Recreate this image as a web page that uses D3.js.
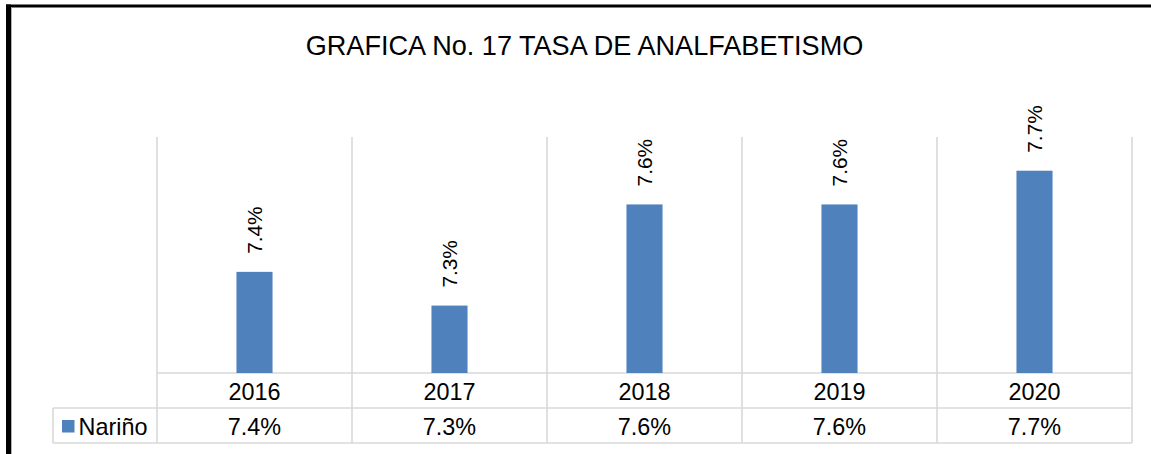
<!DOCTYPE html>
<html>
<head>
<meta charset="utf-8">
<script src="https://cdn.jsdelivr.net/npm/d3@7"></script>
<style>
  html, body { margin: 0; padding: 0; background: #fff; }
  svg { display: block; font-family: "Liberation Sans", Arial, sans-serif; }
</style>
</head>
<body>
<script>
const title = "GRAFICA No. 17 TASA DE ANALFABETISMO";
const years = ["2016", "2017", "2018", "2019", "2020"];
const seriesName = "Nariño";
const values = [7.4, 7.3, 7.6, 7.6, 7.7];
const valueLabels = ["7.4%", "7.3%", "7.6%", "7.6%", "7.7%"];
const yDomain = [7.1, 7.8];

const W = 1151, H = 454;
const svg = d3.select("body").append("svg").attr("width", W).attr("height", H);

const plotLeft = 157, plotRight = 1132, plotTop = 137, plotBottom = 373;
const row1Bottom = 408, row2Bottom = 443, legendLeft = 53;
const gridColor = "#d9d9d9";
const barColor = "#4f81bd";

const x = d3.scaleBand().domain(years).range([plotLeft, plotRight]).padding(0);
const y = d3.scaleLinear().domain(yDomain).range([plotBottom, plotTop]);
const barW = x.bandwidth() * 0.185;

// outer black frame (top & left)
svg.append("rect").attr("x", 6).attr("y", 4.5).attr("width", W - 6).attr("height", 3).attr("fill", "#000");
svg.append("rect").attr("x", 6).attr("y", 4.5).attr("width", 5).attr("height", H).attr("fill", "#000");
svg.append("line").attr("x1", 11.5).attr("x2", 11.5).attr("y1", 7.5).attr("y2", H)
  .attr("stroke", "#b0b0b0").attr("stroke-width", 1);

// title
svg.append("text").attr("x", 584.5).attr("y", 55).attr("text-anchor", "middle")
  .attr("font-size", 27.1).attr("fill", "#000").text(title);

// grid / table lines
const g = svg.append("g").attr("stroke", gridColor).attr("stroke-width", 1.6).attr("fill", "none");
const bounds = years.map(d => x(d)).concat([plotRight]);
bounds.forEach(b => {
  g.append("line").attr("x1", b).attr("x2", b).attr("y1", plotTop).attr("y2", row2Bottom);
});
g.append("line").attr("x1", plotLeft).attr("x2", plotRight).attr("y1", plotBottom).attr("y2", plotBottom);
g.append("line").attr("x1", legendLeft).attr("x2", plotRight).attr("y1", row1Bottom).attr("y2", row1Bottom);
g.append("line").attr("x1", legendLeft).attr("x2", plotRight).attr("y1", row2Bottom).attr("y2", row2Bottom);
g.append("line").attr("x1", legendLeft).attr("x2", legendLeft).attr("y1", row1Bottom).attr("y2", row2Bottom);

// bars
svg.append("g").selectAll("rect").data(values).join("rect")
  .attr("x", (d, i) => x(years[i]) + x.bandwidth() / 2 - barW / 2)
  .attr("y", d => y(d))
  .attr("width", barW)
  .attr("height", d => plotBottom - y(d))
  .attr("fill", barColor);

// rotated data labels
const lblSize = 20.8;
svg.append("g").selectAll("text").data(values).join("text")
  .attr("transform", (d, i) => {
    const cx = x(years[i]) + x.bandwidth() / 2 + lblSize * 0.36;
    const cy = y(d) - 18;
    return `translate(${cx},${cy}) rotate(-90)`;
  })
  .attr("text-anchor", "start")
  .attr("font-size", lblSize)
  .attr("fill", "#000")
  .text((d, i) => valueLabels[i]);

// table: category row
const tblSize = 23.4;
svg.append("g").selectAll("text").data(years).join("text")
  .attr("x", d => x(d) + x.bandwidth() / 2)
  .attr("y", 400)
  .attr("text-anchor", "middle").attr("font-size", tblSize).attr("fill", "#000")
  .text(d => d);

// table: data row
svg.append("g").selectAll("text").data(valueLabels).join("text")
  .attr("x", (d, i) => x(years[i]) + x.bandwidth() / 2)
  .attr("y", 435)
  .attr("text-anchor", "middle").attr("font-size", tblSize).attr("fill", "#000")
  .text(d => d);

// legend key
svg.append("rect").attr("x", 62).attr("y", 420).attr("width", 12.5).attr("height", 12.5).attr("fill", barColor);
svg.append("text").attr("x", 78.5).attr("y", 435).attr("font-size", tblSize).attr("fill", "#000").text(seriesName);
</script>
</body>
</html>
